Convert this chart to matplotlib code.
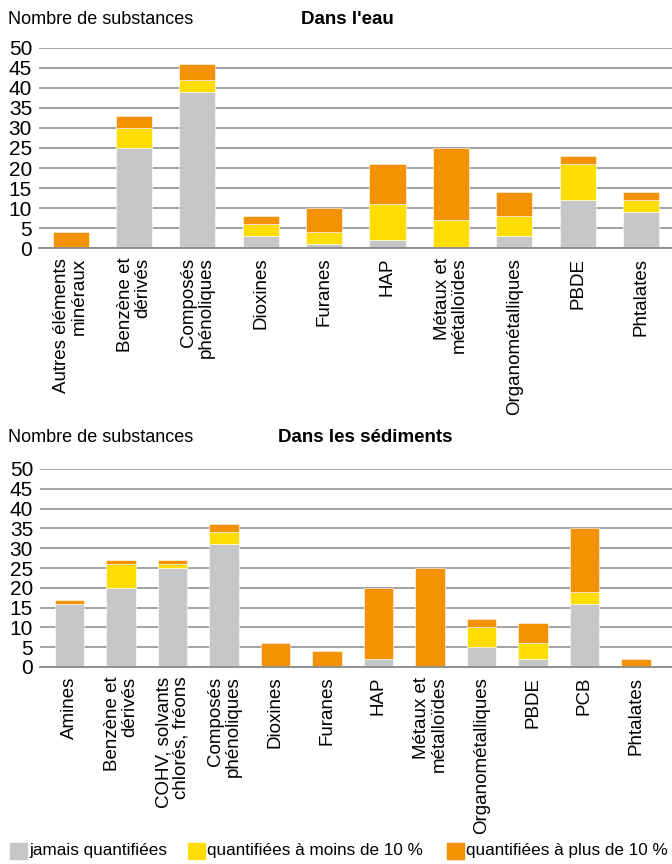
import matplotlib
matplotlib.use("Agg")
import matplotlib.pyplot as plt
from matplotlib.patches import Rectangle
import numpy as np

plt.rcParams['font.family'] = ['Liberation Sans Narrow', 'Liberation Sans', 'DejaVu Sans']

# ---- Data: water ----
eau_categories = ["Autres éléments\nminéraux", "Benzène et\ndérivés", "Composés\nphénoliques",
                  "Dioxines", "Furanes", "HAP", "Métaux et\nmétalloïdes",
                  "Organométalliques", "PBDE", "Phtalates"]
eau_jamais = [0, 25, 39, 3, 1, 2, 0, 3, 12, 9]
eau_moins10 = [0, 5, 3, 3, 3, 9, 7, 5, 9, 3]
eau_plus10 = [4, 3, 4, 2, 6, 10, 18, 6, 2, 2]

# ---- Data: sediments ----
sed_categories = ["Amines", "Benzène et\ndérivés", "COHV, solvants\nchlorés, fréons",
                  "Composés\nphénoliques", "Dioxines", "Furanes", "HAP",
                  "Métaux et\nmétalloïdes", "Organométalliques", "PBDE", "PCB", "Phtalates"]
sed_jamais = [16, 20, 25, 31, 0, 0, 2, 0, 5, 2, 16, 0]
sed_moins10 = [0, 6, 1, 3, 0, 0, 0, 0, 5, 4, 3, 0]
sed_plus10 = [1, 1, 1, 2, 6, 4, 18, 25, 2, 5, 16, 2]

legend_labels = ["jamais quantifiées", "quantifiées à moins de 10 %", "quantifiées à plus de 10 %"]
colors = ["#C6C7C9", "#FFDD00", "#F39200"]
yticks = list(range(0, 51, 5))

W, H = 672, 864
fig = plt.figure(figsize=(W / 100, H / 100), dpi=100)


def draw(ax, cats, s1, s2, s3, width, xlim):
    x = np.arange(len(cats))
    b1 = np.array(s1, float)
    b2 = np.array(s2, float)
    b3 = np.array(s3, float)
    kw = dict(width=width, edgecolor='white', linewidth=0.4, zorder=3)
    ax.bar(x, b1, color=colors[0], **kw)
    ax.bar(x, b2, bottom=b1, color=colors[1], **kw)
    ax.bar(x, b3, bottom=b1 + b2, color=colors[2], **kw)
    ax.set_ylim(0, 50)
    ax.set_xlim(*xlim)
    ax.set_yticks(yticks)
    ax.set_yticklabels([str(t) for t in yticks], fontsize=15)
    ax.yaxis.grid(True, color='#8a8a8a', linewidth=1.1, zorder=0)
    ax.set_axisbelow(True)
    for s in ax.spines.values():
        s.set_visible(False)
    ax.tick_params(axis='y', length=0, pad=5)
    ax.tick_params(axis='x', length=0, pad=7)
    ax.set_xticks(x)
    ax.set_xticklabels(cats, rotation=90, fontsize=13.5, ha='center', va='top',
                       multialignment='right', linespacing=1.05)
    ax.axhline(0, color='#8a8a8a', linewidth=1.3, zorder=4, clip_on=False)


def px_axes(left, top_px, right, bottom_px):
    return fig.add_axes([left / W, 1 - bottom_px / H, (right - left) / W, (bottom_px - top_px) / H])


ax1 = px_axes(39, 48, 672, 248)
draw(ax1, eau_categories, eau_jamais, eau_moins10, eau_plus10, 0.57, (-0.5, 9.49))

ax2 = px_axes(40, 469, 672, 667)
draw(ax2, sed_categories, sed_jamais, sed_moins10, sed_plus10, 0.58, (-0.573, 11.70))

fig.text(8 / W, 1 - 19 / H, "Nombre de substances", fontsize=13, va='center', ha='left')
fig.text(347 / W, 1 - 19 / H, "Dans l'eau", fontsize=13.5, fontweight='bold', va='center', ha='center')
fig.text(8 / W, 1 - 438 / H, "Nombre de substances", fontsize=13, va='center', ha='left')
fig.text(365 / W, 1 - 438 / H, "Dans les sédiments", fontsize=13.5, fontweight='bold', va='center', ha='center')

# legend
leg_y = 851
positions = [10, 188, 447]
for xpos, lab, c in zip(positions, legend_labels, colors):
    fig.patches.append(Rectangle((xpos / W, 1 - (leg_y + 8) / H), 17 / W, 16 / H,
                                 transform=fig.transFigure, color=c))
    fig.text((xpos + 19) / W, 1 - leg_y / H, lab, fontsize=12.3, va='center', ha='left')

fig.savefig("out.png", dpi=100)
